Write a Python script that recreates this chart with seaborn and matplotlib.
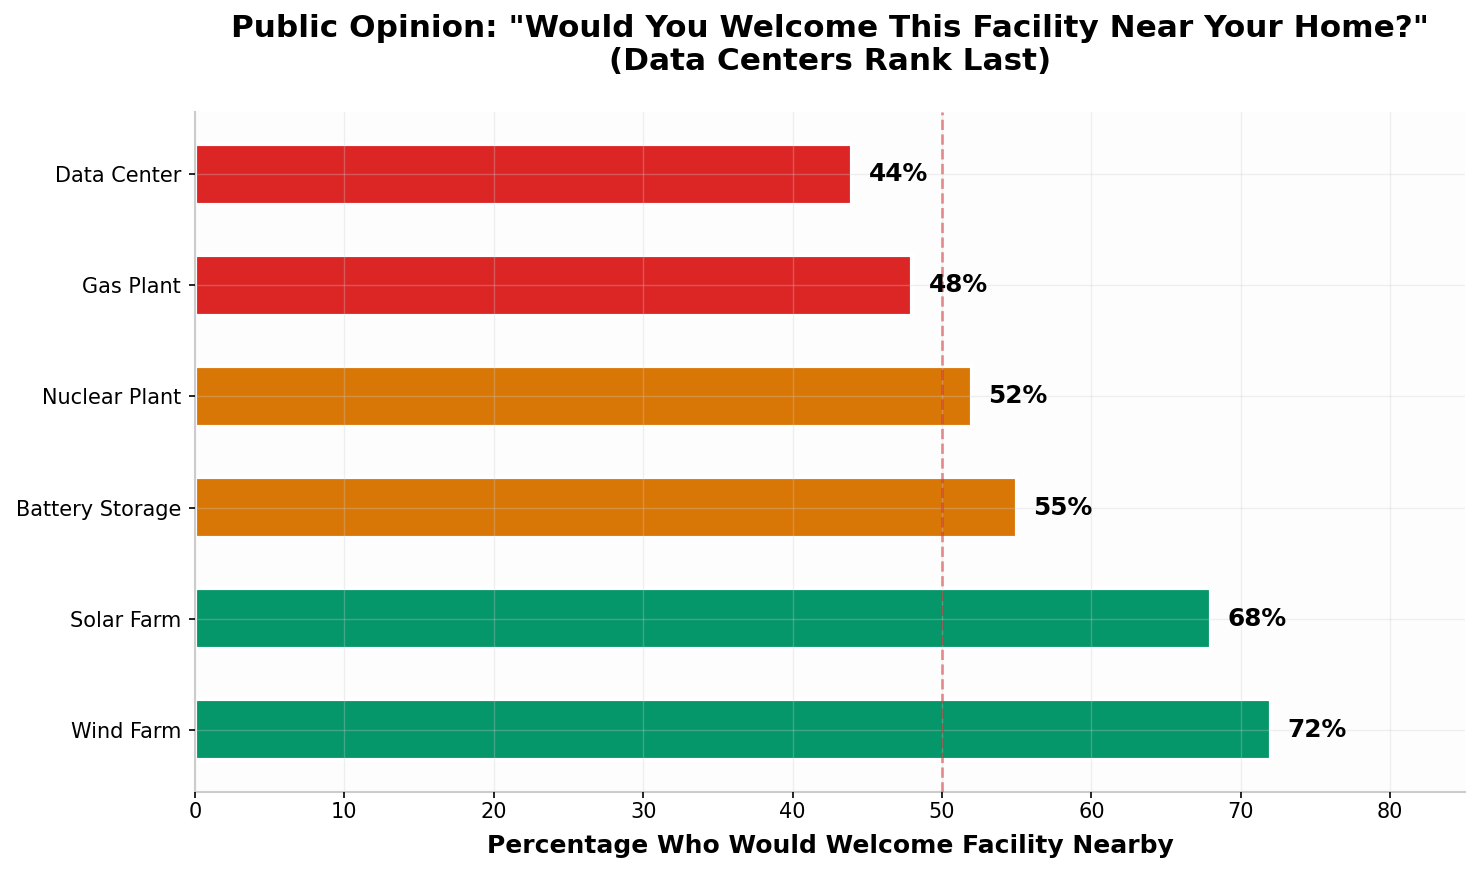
import matplotlib
matplotlib.use("Agg")
import matplotlib.pyplot as plt
import seaborn as sns
import pandas as pd

facilities = ["Data Center", "Gas Plant", "Nuclear Plant", "Battery Storage", "Solar Farm", "Wind Farm"]
welcome_pct = [44, 48, 52, 55, 68, 72]
bar_colors = ["#DC2626", "#DC2626", "#D97706", "#D97706", "#059669", "#059669"]
threshold = 50

sns.set_theme(style="whitegrid")
plt.rcParams['font.family'] = ['DejaVu Sans']
plt.rcParams['text.color'] = 'black'
plt.rcParams['axes.labelcolor'] = 'black'
plt.rcParams['xtick.color'] = 'black'
plt.rcParams['ytick.color'] = 'black'

df = pd.DataFrame({"facility": facilities, "pct": welcome_pct})

fig = plt.figure(figsize=(14.79, 8.74), dpi=100)
ax = fig.add_axes([195/1479, 1 - 792/874, (1465-195)/1479, (792-112)/874])
ax.set_facecolor("#fdfdfd")

sns.barplot(data=df, y="facility", x="pct", hue="facility", palette=bar_colors,
            order=facilities, hue_order=facilities, orient="h", width=0.55,
            legend=False, ax=ax, saturation=1, edgecolor="white", linewidth=3, zorder=2)

ax.axvline(threshold, color="#DC2626", alpha=0.5, linestyle="--", linewidth=2, zorder=4)

for i, v in enumerate(welcome_pct):
    ax.text(v + 1.1, i, f"{v}%", va="center", ha="left", fontsize=17.8, fontweight="bold", color="black", zorder=5)

ax.set_xlim(0, 85)
ax.set_ylim(5.56, -0.56)
ax.grid(True, color="#cccccc", alpha=0.3, linewidth=1, zorder=3)
ax.set_axisbelow(False)
for line in ax.get_xgridlines() + ax.get_ygridlines():
    line.set_zorder(3)

ax.set_ylabel("")
ax.set_xlabel("Percentage Who Would Welcome Facility Nearby", fontsize=18, fontweight="bold", labelpad=8, color="black")
ax.set_title('Public Opinion: "Would You Welcome This Facility Near Your Home?"\n(Data Centers Rank Last)',
             fontsize=22.4, fontweight="bold", pad=30, color="black")

ax.tick_params(axis="both", labelsize=15, length=4, width=1.2, color="black", labelcolor="black",
               bottom=True, left=True)
ax.tick_params(axis="y", pad=6)
for s in ["top", "right"]:
    ax.spines[s].set_visible(False)
for s in ["left", "bottom"]:
    ax.spines[s].set_visible(True)
    ax.spines[s].set_color("#cccccc")
    ax.spines[s].set_linewidth(1.5)

fig.savefig("out.png", dpi=100, facecolor="white")
